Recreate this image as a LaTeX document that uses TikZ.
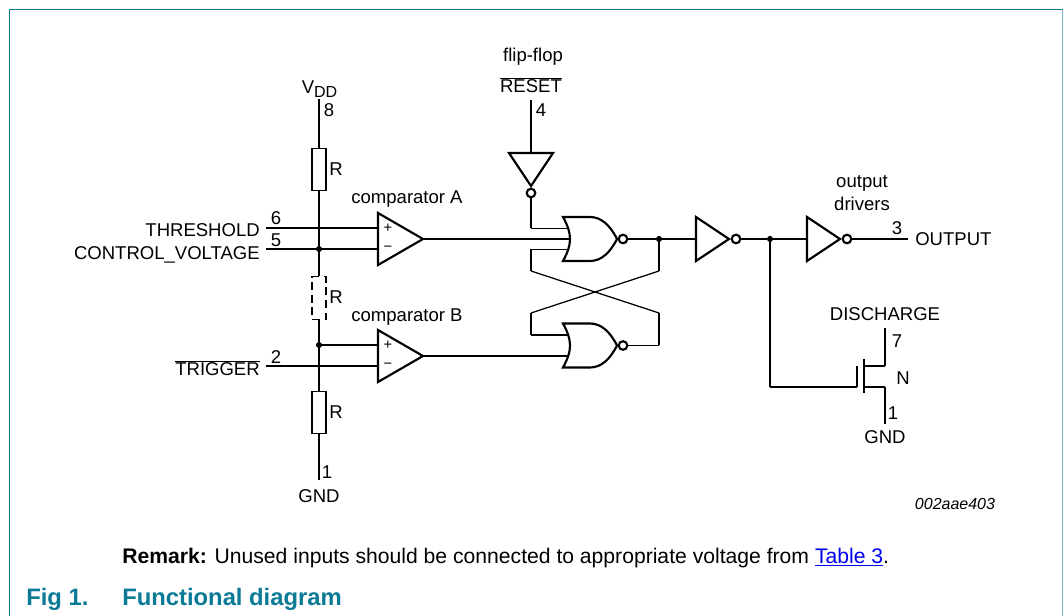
\documentclass[tikz,border=0pt]{standalone}
\usepackage{fontspec}
\setmainfont{Liberation Sans}
\definecolor{figteal}{HTML}{0B7A96}
\definecolor{linkblue}{HTML}{0000F0}
\tikzset{
 wire/.style={line width=0.95pt},
 gateline/.style={line width=1.6pt, line join=miter, fill=white},
 lbl/.style={inner sep=0pt, font=\fontsize{13.9}{17.2}\selectfont},
 dot/.style={circle, fill=black, inner sep=0pt, minimum size=4.6pt},
 resistor/.style={draw, line width=0.95pt, inner sep=0pt, minimum width=10.5pt, minimum height=32pt},
 comparator/.pic={
  \draw [gateline] (0,-26) -- (45,0) -- (0,26) -- cycle;
  \node [inner sep=0pt, font=\fontsize{11}{11}\selectfont] (-p) at (10,-11) {+};
  \node [inner sep=0pt, font=\fontsize{11}{11}\selectfont] (-m) at (10,10) {−};
  \coordinate (-plus) at (0,-11);
  \coordinate (-minus) at (0,10);
  \coordinate (-out) at (45,0);
 },
 inverter/.pic={
  \draw [gateline] (0,-22) -- (33,0) -- (0,22) -- cycle;
  \draw [gateline] (40,0) circle (4.3);
  \coordinate (-in) at (0,0);
  \coordinate (-out) at (44.3,0);
 },
 norgate/.pic={
  \draw [gateline] (0,-22) .. controls (5,-13) and (7,-6) .. (7,0)
   .. controls (7,6) and (5,13) .. (0,22) -- (27,22)
   .. controls (38,22) and (47,14) .. (54,0)
   .. controls (47,-14) and (38,-22) .. (27,-22) -- cycle;
  \draw [gateline] (60,0) circle (4.3);
  \coordinate (-ina) at (5,-10.5);
  \coordinate (-inb) at (7,0);
  \coordinate (-inc) at (5,10.5);
  \coordinate (-out) at (64.3,0);
 }
}
\begin{document}
\begin{tikzpicture}[x=0.75pt,y=-0.75pt]
 \useasboundingbox (0,0) rectangle (1064,616);
 \draw [figteal, line width=0.9pt] (9.5,616) -- (9.5,9.8) -- (1062.5,9.8);
 \draw [figteal!55, line width=1.2pt] (1062.5,9.8) -- (1062.5,616);

 % supply side
 \coordinate (vdd) at (319,99);
 \coordinate (thr) at (266,228);
 \coordinate (ctl) at (266,249);
 \coordinate (trg) at (266,366);
 \coordinate (gnd) at (319,480);
 \node [dot] (n1) at (319,249) {};
 \node [dot] (n2) at (319,345) {};
 \node [resistor] (r1) at (319,169.5) {};
 \node [resistor, dash pattern=on 6pt off 3.5pt] (r2) at (319,298) {};
 \node [resistor] (r3) at (319,412.5) {};

 \pic (cmpa) at (378,239) {comparator};
 \pic (cmpb) at (378,356) {comparator};

 \path [wire] (vdd) edge (r1);
 \path [wire] (r1) edge (n1);
 \path [wire] (n1) edge (r2);
 \path [wire] (r2) edge (n2);
 \path [wire] (n2) edge (r3);
 \path [wire] (r3) edge (gnd);
 \path [wire] (thr) edge (cmpa-plus);
 \path [wire] (ctl) edge (n1);
 \path [wire] (n1) edge (cmpa-minus);
 \path [wire] (n2) edge (cmpb-plus);
 \path [wire] (trg) edge (cmpb-minus);

 % flip-flop
 \coordinate (rst) at (531,100);
 \pic [rotate=-90] (invr) at (531,153) {inverter};
 \pic (nora) at (563,239) {norgate};
 \pic (norb) at (563,345.5) {norgate};
 \coordinate (a1) at (531,228.5);
 \coordinate (a2) at (531,249.5);
 \coordinate (a3) at (531,271);
 \coordinate (a4) at (659,313);
 \coordinate (a5) at (659,345.5);
 \coordinate (b1) at (659,271);
 \coordinate (b2) at (531,313);
 \coordinate (b3) at (531,335);
 \node [dot] (n3) at (659,239) {};

 \path [wire] (rst) edge (invr-in);
 \path [wire] (invr-out) edge (a1);
 \path [wire] (a1) edge (nora-ina);
 \path [wire] (cmpa-out) edge (nora-inb);
 \path [wire] (nora-inc) edge (a2);
 \path [wire] (a2) edge (a3);
 \path [wire] (a3) edge (a4);
 \path [wire] (a4) edge (a5);
 \path [wire] (a5) edge (norb-out);
 \path [wire] (nora-out) edge (n3);
 \path [wire] (n3) edge (b1);
 \path [wire] (b1) edge (b2);
 \path [wire] (b2) edge (b3);
 \path [wire] (b3) edge (norb-ina);
 \path [wire] (cmpb-out) edge (norb-inc);

 % output side
 \pic (inv1) at (696,239) {inverter};
 \pic (inv2) at (807,239) {inverter};
 \node [dot] (n4) at (770,239) {};
 \coordinate (out) at (908,239);
 \coordinate (g1) at (770,387);
 \coordinate (g2) at (857,387);
 \coordinate (g3) at (857,366);
 \coordinate (c1) at (864,359);
 \coordinate (c2) at (864,393);
 \coordinate (d1) at (864,366);
 \coordinate (d2) at (885,366);
 \coordinate (d3) at (885,328);
 \coordinate (s1) at (864,387);
 \coordinate (s2) at (885,387);
 \coordinate (s3) at (885,424);

 \path [wire] (n3) edge (inv1-in);
 \path [wire] (inv1-out) edge (n4);
 \path [wire] (n4) edge (inv2-in);
 \path [wire] (inv2-out) edge (out);
 \path [wire] (n4) edge (g1);
 \path [wire] (g1) edge (g2);
 \path [wire] (g2) edge (g3);
 \path [gateline] (c1) edge (c2);
 \path [wire] (d1) edge (d2);
 \path [wire] (d2) edge (d3);
 \path [wire] (s1) edge (s2);
 \path [wire] (s2) edge (s3);

 % labels
 \node [lbl] (lvdd) at (319.5,89) {V\raisebox{-0.35ex}{\fontsize{12}{12}\selectfont DD}};
 \node [lbl] (l8) at (329,110) {8};
 \node [lbl] (lr1) at (336,169) {R};
 \node [lbl] (lr2) at (336,297) {R};
 \node [lbl] (lr3) at (336,412) {R};
 \node [lbl, anchor=east] (lthr) at (260,230) {THRESHOLD};
 \node [lbl, anchor=east] (lctl) at (260,255) {CONTROL\_VOLTAGE};
 \node [lbl, anchor=east] (ltrg) at (260,368) {$\overline{\mbox{TRIGGER}}$};
 \node [lbl] (l6) at (276,218) {6};
 \node [lbl] (l5) at (276,240) {5};
 \node [lbl] (l2) at (276,357) {2};
 \node [lbl] (l1) at (327,472) {1};
 \node [lbl] (lgnd) at (319,496) {GND};
 \node [lbl] (lcmpa) at (407,199) {comparator A};
 \node [lbl] (lcmpb) at (407,317) {comparator B};
 \node [lbl] (lff) at (533,57) {flip-flop};
 \node [lbl] (lrst) at (531,85) {$\overline{\mbox{RESET}}$};
 \node [lbl] (l4) at (541,110) {4};
 \node [lbl, align=center] (ldrv) at (862,193) {output\\drivers};
 \node [lbl] (l3) at (897,228) {3};
 \node [lbl, anchor=west] (lout) at (915,239) {OUTPUT};
 \node [lbl] (ldis) at (885,314) {DISCHARGE};
 \node [lbl] (l7) at (897,341) {7};
 \node [lbl] (ln) at (903,378) {N};
 \node [lbl] (l1b) at (893,413) {1};
 \node [lbl] (lgnd2) at (885,437) {GND};
 \node [inner sep=0pt, font=\fontsize{12}{14}\selectfont\itshape] (lcode) at (955,504) {002aae403};
 \node [lbl, anchor=west, font=\fontsize{15.85}{18}\selectfont] (lrem) at (122,558) {\textbf{Remark:} Unused inputs should be connected to appropriate voltage from \textcolor{linkblue}{\underline{Table 3}}.};
 \node [lbl, anchor=west, text=figteal, font=\fontsize{17.85}{20}\selectfont\bfseries] (lfig) at (26,599) {Fig 1.};
 \node [lbl, anchor=west, text=figteal, font=\fontsize{17.85}{20}\selectfont\bfseries] (lcap) at (122,599) {Functional diagram};
\end{tikzpicture}
\end{document}
